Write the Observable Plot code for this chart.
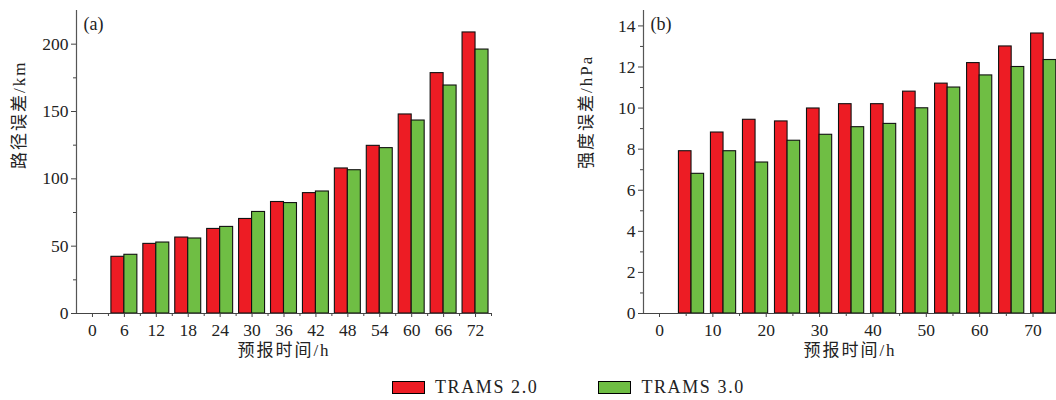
<!DOCTYPE html>
<html>
<head>
<meta charset="utf-8">
<script src="https://cdn.jsdelivr.net/npm/d3@7"></script>
<script src="https://cdn.jsdelivr.net/npm/@observablehq/plot@0.6"></script>
<style>
  html, body { margin: 0; padding: 0; background: #fff; overflow: hidden; }
  #wrap { position: relative; width: 1056px; height: 400px; overflow: hidden; font-family: "Liberation Serif", "Noto Sans CJK SC", serif; }
  #wrap svg, #wrap svg text, #wrap svg g { font-family: "Liberation Serif", "Noto Sans CJK SC", serif !important; font-variant: normal !important; }
  #left { position: absolute; left: 0; top: 0; }
  #right { position: absolute; left: 560px; top: 0; }
  #legend { position: absolute; left: 392px; top: 377px; display: flex; align-items: center; font-size: 18px; letter-spacing: 1.6px; color: #222; }
  .sw { width: 31px; height: 11px; border: 1px solid #000; display: inline-block; margin-right: 10px; }
  .item { display: flex; align-items: center; }
</style>
</head>
<body>
<div id="wrap">
  <div id="left"></div>
  <div id="right"></div>
  <div id="legend"></div>
</div>
<script>
// Data
const leadHours = [6, 12, 18, 24, 30, 36, 42, 48, 54, 60, 66, 72];
const seriesNames = ["TRAMS 2.0", "TRAMS 3.0"];
const trackErr20 = [42.1, 51.7, 56.4, 62.8, 70.2, 82.8, 89.4, 107.7, 124.5, 147.8, 178.5, 208.7];
const trackErr30 = [43.6, 52.7, 55.7, 64.3, 75.4, 82.0, 90.6, 106.4, 122.8, 143.3, 169.3, 196.0];
const intErr20 = [7.90, 8.81, 9.43, 9.35, 9.98, 10.19, 10.19, 10.80, 11.19, 12.19, 13.00, 13.63];
const intErr30 = [6.80, 7.90, 7.35, 8.41, 8.70, 9.07, 9.23, 9.99, 11.00, 11.59, 12.00, 12.34];
const leftXTicks = [0, 6, 12, 18, 24, 30, 36, 42, 48, 54, 60, 66, 72];
const leftXMinor = [3, 9, 15, 21, 27, 33, 39, 45, 51, 57, 63, 69, 75];
const leftYTicks = [0, 50, 100, 150, 200];
const leftYMinor = [25, 75, 125, 175];
const rightXTicks = [0, 10, 20, 30, 40, 50, 60, 70];
const rightXMinor = [5, 15, 25, 35, 45, 55, 65];
const rightYTicks = [0, 2, 4, 6, 8, 10, 12, 14];
const rightYMinor = [1, 3, 5, 7, 9, 11, 13];
const colors = ["#ED1C24", "#6FBE44"];

function rows(a, b) {
  const out = [];
  leadHours.forEach((h, i) => {
    out.push({h, s: seriesNames[0], v: a[i], k: 0});
    out.push({h, s: seriesNames[1], v: b[i], k: 1});
  });
  return out;
}

const font = "'Liberation Serif', 'Noto Sans CJK SC', serif";

function chart({data, width, marginLeft, marginRight, xDomain, yDomain, xTicks, xMinor, yTicks, yMinor, barW, tag, ylabel}) {
  return Plot.plot({
    width, height: 370,
    marginLeft, marginRight, marginTop: 10, marginBottom: 57,
    style: {fontFamily: font, fontSize: "17px", color: "#222", background: "#fff"},
    x: {domain: xDomain, axis: null},
    y: {domain: yDomain, axis: null},
    color: {domain: seriesNames, range: colors},
    marks: [
      Plot.rectY(data, {
        x1: d => d.k === 0 ? d.h - barW : d.h,
        x2: d => d.k === 0 ? d.h : d.h + barW,
        y1: 0, y2: "v",
        fill: "s", stroke: "#111", strokeWidth: 1.1
      }),
      Plot.axisY({ticks: yTicks, tickSize: 5, tickPadding: 3, stroke: "#444", label: null, fontSize: 17.5, fontFamily: font, fontVariant: "normal", color: "#222"}),
      Plot.axisY({ticks: yMinor, tickSize: 3, text: null, stroke: "#444", label: null}),
      Plot.axisX({ticks: xTicks, tickSize: 4, tickPadding: 6, stroke: "#444", label: null, fontSize: 17.5, fontFamily: font, fontVariant: "normal", tickFormat: d => String(d)}),
      Plot.axisX({ticks: xMinor, tickSize: 3, text: null, stroke: "#444", label: null}),
      Plot.ruleX([xDomain[0]], {stroke: "#555", strokeWidth: 1.2}),
      Plot.ruleY([0], {stroke: "#444", strokeWidth: 1.2}),
      Plot.text([tag], {frameAnchor: "top-left", dx: 7, dy: 7, fontSize: 18, fontFamily: font, fill: "#222"}),
      Plot.text(["预报时间/h"], {frameAnchor: "bottom", dy: 42, fontSize: 17, fontFamily: font, fill: "#222"}),
      Plot.text([ylabel], {frameAnchor: "left", dx: -57, dy: 7, rotate: -90, fontSize: 17, fontFamily: font, fill: "#222"})
    ]
  });
}

const left = chart({
  data: rows(trackErr20, trackErr30), width: 520, marginLeft: 76, marginRight: 29,
  xDomain: [-3, 75], yDomain: [0, 225], xTicks: leftXTicks, xMinor: leftXMinor,
  yTicks: leftYTicks, yMinor: leftYMinor, barW: 2.44, tag: "(a)", ylabel: "路径误差/km"
});
const right = chart({
  data: rows(intErr20, intErr30), width: 496, marginLeft: 83, marginRight: 0,
  xDomain: [-3, 74.4], yDomain: [0, 14.75], xTicks: rightXTicks, xMinor: rightXMinor,
  yTicks: rightYTicks, yMinor: rightYMinor, barW: 2.36, tag: "(b)", ylabel: "强度误差/hPa"
});
document.getElementById("left").appendChild(left);
document.getElementById("right").appendChild(right);

// letter spacing for axis titles
document.querySelectorAll("svg text").forEach(t => {
  if (/[\u4e00-\u9fff]/.test(t.textContent)) t.setAttribute("letter-spacing", "2");
});

const legend = document.getElementById("legend");
seriesNames.forEach((n, i) => {
  const it = document.createElement("div");
  it.className = "item";
  it.style.marginRight = i === 0 ? "60px" : "0";
  const sw = document.createElement("span");
  sw.className = "sw";
  sw.style.background = colors[i];
  const tx = document.createElement("span");
  tx.textContent = n;
  it.appendChild(sw); it.appendChild(tx);
  legend.appendChild(it);
});
</script>
</body>
</html>
